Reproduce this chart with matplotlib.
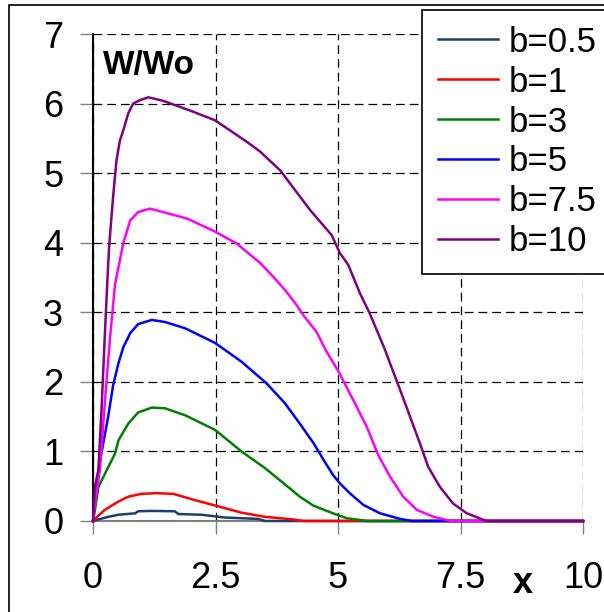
import matplotlib
matplotlib.use("Agg")
import matplotlib.pyplot as plt
from matplotlib.patches import Rectangle

plt.rcParams['font.family'] = ['Liberation Sans', 'DejaVu Sans']

# W/Wo profiles along x for several values of b
labels = ["b=0.5", "b=1", "b=3", "b=5", "b=7.5", "b=10"]
colors = ["#1B3F6E", "#FF0000", "#008000", "#0000FF", "#FF00FF", "#800080"]

x_b05 = [0, 0.1, 0.31, 0.52, 0.86, 0.92, 1.2, 1.67, 1.74, 2.22, 2.69, 3.37, 3.51, 10]
y_b05 = [0, 0.02, 0.06, 0.09, 0.11, 0.14, 0.145, 0.14, 0.10, 0.09, 0.05, 0.03, 0, 0]

x_b1 = [0, 0.1, 0.24, 0.52, 0.72, 0.99, 1.3, 1.64, 2.08, 2.56, 3.03, 3.51, 4.12, 4.3, 10]
y_b1 = [0, 0.07, 0.16, 0.28, 0.35, 0.39, 0.40, 0.39, 0.30, 0.21, 0.12, 0.06, 0.02, 0, 0]

x_b3 = [0, 0.04, 0.11, 0.28, 0.45, 0.52, 0.72, 0.92, 1.2, 1.47, 1.88, 2.49, 3.03,
        3.51, 4.05, 4.22, 4.5, 4.9, 5.18, 5.6, 10]
y_b3 = [0, 0.16, 0.49, 0.73, 0.97, 1.16, 1.40, 1.56, 1.63, 1.62, 1.52, 1.31, 1.0,
        0.76, 0.45, 0.35, 0.22, 0.11, 0.04, 0, 0]

x_b5 = [0, 0.05, 0.11, 0.21, 0.31, 0.41, 0.52, 0.62, 0.76, 0.92, 1.2, 1.47, 1.88,
        2.49, 3.03, 3.54, 3.92, 4.22, 4.5, 4.73, 4.9, 5.04, 5.24, 5.52, 5.86, 6.27,
        6.5, 10]
y_b5 = [0, 0.35, 0.73, 1.12, 1.50, 1.95, 2.27, 2.50, 2.70, 2.83, 2.89, 2.86, 2.77,
        2.56, 2.29, 1.98, 1.69, 1.40, 1.12, 0.85, 0.66, 0.54, 0.40, 0.23, 0.11, 0.03,
        0, 0]

x_b75 = [0, 0.05, 0.14, 0.24, 0.35, 0.45, 0.62, 0.76, 0.92, 1.16, 1.43, 1.91, 2.49,
         2.93, 3.41, 3.68, 3.92, 4.16, 4.29, 4.56, 4.77, 5.01, 5.31, 5.59, 5.82,
         6.06, 6.33, 6.61, 6.95, 7.3, 10]
y_b75 = [0, 0.3, 0.73, 1.69, 2.65, 3.40, 4.0, 4.32, 4.44, 4.49, 4.44, 4.35, 4.16,
         3.99, 3.71, 3.51, 3.32, 3.10, 2.96, 2.72, 2.43, 2.15, 1.74, 1.35, 0.95,
         0.64, 0.35, 0.16, 0.06, 0, 0]

x_b10 = [0, 0.04, 0.11, 0.18, 0.24, 0.30, 0.33, 0.41, 0.48, 0.55, 0.62, 0.72, 0.82,
         0.96, 1.13, 1.43, 1.98, 2.49, 3.14, 3.41, 3.82, 4.43, 4.87, 5.04, 5.21,
         5.45, 5.65, 5.96, 6.06, 6.27, 6.47, 6.67, 6.84, 7.08, 7.35, 7.63, 8.03, 10]
y_b10 = [0, 0.5, 0.73, 1.69, 2.65, 3.55, 3.95, 4.66, 5.19, 5.47, 5.62, 5.86, 6.0,
         6.05, 6.09, 6.04, 5.9, 5.76, 5.45, 5.31, 5.04, 4.47, 4.11, 3.85, 3.68,
         3.27, 2.98, 2.46, 2.27, 1.88, 1.50, 1.12, 0.78, 0.49, 0.25, 0.11, 0, 0]

xs = [x_b05, x_b1, x_b3, x_b5, x_b75, x_b10]
ys = [y_b05, y_b1, y_b3, y_b5, y_b75, y_b10]

x_ticks = [0, 2.5, 5, 7.5, 10]
x_ticklabels = ["0", "2.5", "5", "7.5", "10"]
y_ticks = [0, 1, 2, 3, 4, 5, 6, 7]

W, H = 604, 612
fig = plt.figure(figsize=(W / 100, H / 100), dpi=100)
ax = fig.add_axes([93 / W, 1 - 521 / H, 490 / W, 487 / H])

for xv, yv, c, lab in zip(xs, ys, colors, labels):
    ax.plot(xv, yv, color=c, lw=1.8, label=lab, clip_on=False, zorder=3)

ax.set_xlim(0, 10)
ax.set_ylim(0, 7)
ax.set_xticks(x_ticks)
ax.set_xticklabels(x_ticklabels)
ax.set_yticks(y_ticks)

ax.grid(True, color="black", lw=0.9, linestyle=(0, (7, 4)))
ax.set_axisbelow(True)

for s in ["top", "right"]:
    ax.spines[s].set_visible(False)
ax.spines["left"].set_color("black")
ax.spines["left"].set_linewidth(1.5)
ax.spines["bottom"].set_color("#808080")
ax.spines["bottom"].set_linewidth(1.5)

ax.tick_params(axis="both", direction="out", length=9.5, width=1.0,
               color="#808080", labelsize=26)
ax.tick_params(axis="x", pad=19)
ax.tick_params(axis="y", pad=12)

ax.text(0.02, 0.935, "W/Wo", transform=ax.transAxes, fontsize=24,
        fontweight="bold", ha="left", va="center")
ax.text(8.78, -0.9, "x", fontsize=26, fontweight="bold", ha="center",
        va="center")

leg = ax.legend(loc="upper left", bbox_to_anchor=(422 / W, 1 - 10 / H),
                bbox_transform=fig.transFigure, borderaxespad=0, fontsize=25,
                handlelength=1.75, handletextpad=0.3, labelspacing=0.2,
                borderpad=0.45, frameon=True, fancybox=False,
                edgecolor="black", framealpha=1)
leg.get_frame().set_linewidth(1.2)

# outer chart border
fig.patches.append(Rectangle((8.5 / W, -0.5), 2, 1.5 - 5 / H, fill=False,
                             edgecolor="black", lw=1.2,
                             transform=fig.transFigure))

fig.savefig("out.png", dpi=100)
